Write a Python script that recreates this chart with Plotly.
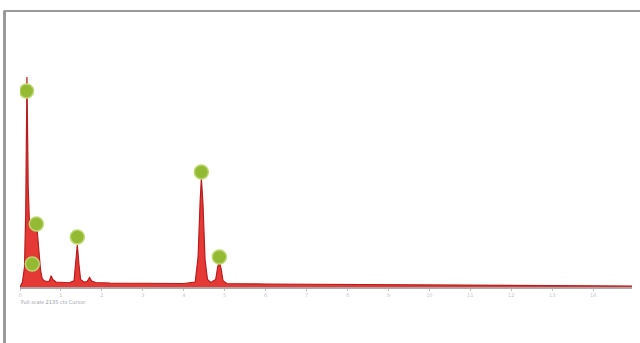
import plotly.graph_objects as go

# EDS spectrum: energy (keV) and counts
energy = [0.00, 0.06, 0.11, 0.14, 0.17, 0.20, 0.23, 0.28, 0.33, 0.38, 0.42, 0.46,
          0.50, 0.54, 0.58, 0.65, 0.72, 0.76, 0.80, 0.88, 1.00, 1.20, 1.32, 1.36,
          1.40, 1.44, 1.48, 1.56, 1.64, 1.70, 1.75, 1.85, 2.20, 3.00, 4.00, 4.28,
          4.35, 4.40, 4.43, 4.47, 4.52, 4.58, 4.66, 4.78, 4.83, 4.87, 4.91, 4.96,
          5.05, 6.00, 8.00, 10.00, 12.00, 14.00, 14.95]
counts = [0, 20, 80, 300, 840, 400, 260, 230, 240, 250, 225, 150,
          70, 35, 26, 22, 24, 45, 30, 20, 18, 17, 25, 90,
          168, 90, 30, 20, 22, 38, 24, 18, 16, 15, 14, 20,
          120, 340, 436, 330, 110, 30, 18, 30, 80, 100, 75, 25,
          14, 12, 10, 8, 6, 5, 4]

# Element identification markers (energy, counts)
marker_energy = [0.16, 0.40, 0.30, 1.40, 4.43, 4.87]
marker_counts = [784, 252, 92, 200, 460, 120]

tick_vals = list(range(0, 15))
tick_text = [str(v) for v in tick_vals]

W, H = 640, 343
L, R, T, B = 19.5, 8, 37, 56
PW, PH = W - L - R, H - T - B


def px(x):
    return (x - L) / PW


def py(y):
    return (H - B - y) / PH


fig = go.Figure()

fig.add_trace(go.Scatter(
    x=energy, y=counts, mode="lines",
    line=dict(color="#b81c1c", width=1.2),
    fill="tozeroy", fillcolor="rgba(226,40,36,0.92)",
    hoverinfo="skip", showlegend=False,
))

fig.add_trace(go.Scatter(
    x=marker_energy, y=marker_counts, mode="markers",
    marker=dict(size=14, color="#93ba32",
                line=dict(color="#bcd872", width=1.5)),
    hoverinfo="skip", showlegend=False,
))

fig.update_xaxes(
    range=[0, 14.95], tickvals=tick_vals, ticktext=tick_text,
    showgrid=False, zeroline=False, showline=True, linecolor="#a8a8a8",
    linewidth=2, ticks="outside", ticklen=2, tickcolor="#c0c0c0",
    tickfont=dict(size=5, color="#c8c8c8", family="DejaVu Sans"),
)
fig.update_yaxes(range=[0, 1000], visible=False, showgrid=False)

# Window frame (top and left edges)
shapes = [
    dict(type="line", xref="paper", yref="paper",
         x0=px(3), x1=px(640), y0=py(11), y1=py(11),
         line=dict(color="#9a9a9a", width=2)),
    dict(type="line", xref="paper", yref="paper",
         x0=px(4), x1=px(4), y0=py(11), y1=py(343),
         line=dict(color="#9a9a9a", width=3)),
]

fig.add_annotation(
    x=px(18), y=py(302), xref="paper", yref="paper",
    xanchor="left", yanchor="middle", showarrow=False,
    text="Full scale 2135 cts Cursor",
    font=dict(size=5, color="#9aa0a8", family="DejaVu Sans"),
)

fig.update_layout(
    width=W, height=H, margin=dict(l=L, r=R, t=T, b=B),
    paper_bgcolor="white", plot_bgcolor="white", shapes=shapes,
)

fig.write_html("out.html")
